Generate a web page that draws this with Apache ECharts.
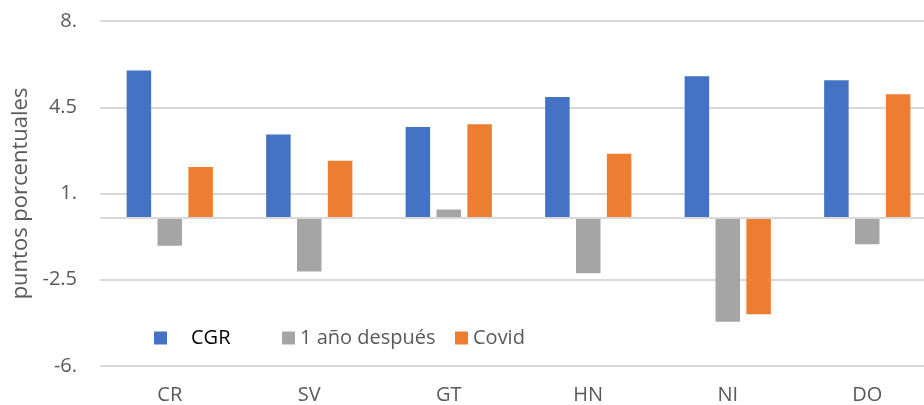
<!DOCTYPE html>
<html>
<head>
<meta charset="utf-8">
<script src="https://cdn.jsdelivr.net/npm/echarts@6/dist/echarts.min.js"></script>
<style>html,body{margin:0;padding:0;background:#fff;overflow:hidden}#c{width:924px;height:405px}</style>
</head>
<body>
<div id="c"></div>
<script>
var categories = ['CR', 'SV', 'GT', 'HN', 'NI', 'DO'];
var cgr = [5.99, 3.39, 3.70, 4.92, 5.76, 5.60];
var unAnio = [-1.12, -2.17, 0.35, -2.24, -4.20, -1.06];
var covid = [2.08, 2.33, 3.81, 2.61, -3.90, 5.03];
var seriesNames = ['CGR', '1 año después', 'Covid'];
var yMin = -6, yMax = 8, yStep = 3.5;

var font = 'Open Sans';
var chart = echarts.init(document.getElementById('c'));
function legendAt(name, left, rich) {
  return {
    data: [name], left: left, top: 323, itemWidth: 13, itemHeight: 13,
    icon: 'rect', selectedMode: false,
    textStyle: { fontFamily: font, fontSize: 20, color: '#595959', rich: rich || {} },
    formatter: rich ? '{a|' + name + '}' : name
  };
}
chart.setOption({
  animation: false,
  grid: { left: 100, width: 837, top: 21, bottom: 39, containLabel: false, outerBoundsMode: 'none' },
  legend: [
    legendAt(seriesNames[0], 149, { a: { fontFamily: font, fontSize: 20, color: '#000', padding: [0, 0, 0, 19] } }),
    legendAt(seriesNames[1], 277),
    legendAt(seriesNames[2], 450)
  ],
  xAxis: {
    type: 'category', data: categories,
    axisLine: { show: false, onZero: false },
    axisTick: { show: false },
    axisLabel: { fontFamily: font, fontSize: 20, color: '#595959', margin: 19 }
  },
  yAxis: {
    type: 'value', min: yMin, max: yMax, interval: yStep,
    name: 'puntos porcentuales', nameLocation: 'middle', nameGap: 66,
    nameTextStyle: { fontFamily: font, fontSize: 22, color: '#595959' },
    axisLine: { show: false }, axisTick: { show: false },
    axisLabel: {
      fontFamily: font, fontSize: 20, color: '#595959', margin: 23,
      formatter: function (v) { return (Math.round(v * 10) % 10 === 0) ? (v + '.') : String(v); }
    },
    splitLine: { lineStyle: { color: '#d9d9d9', width: 2 } }
  },
  series: [
    { name: seriesNames[0], type: 'bar', data: cgr, barWidth: 24.5, barGap: '26%', itemStyle: { color: '#4472C4' },
      markLine: { silent: true, symbol: 'none', label: { show: false }, lineStyle: { color: '#d9d9d9', width: 2, type: 'solid' }, data: [{ yAxis: 0 }] } },
    { name: seriesNames[1], type: 'bar', data: unAnio, barWidth: 24.5, barGap: '26%', itemStyle: { color: '#A5A5A5' } },
    { name: seriesNames[2], type: 'bar', data: covid, barWidth: 24.5, barGap: '26%', itemStyle: { color: '#ED7D31' } }
  ]
});
</script>
</body>
</html>
